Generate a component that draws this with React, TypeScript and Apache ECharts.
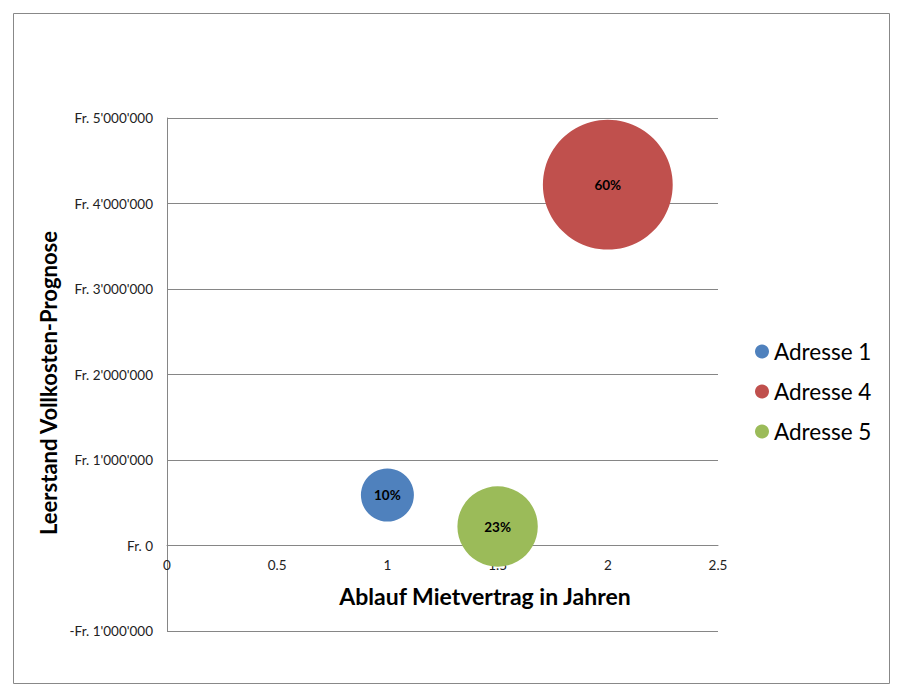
import React, { useEffect, useRef } from "react";
import * as echarts from "echarts";

const seriesNames = ["Adresse 1", "Adresse 4", "Adresse 5"];
const seriesColors = ["#4F81BD", "#C0504D", "#9BBB59"];
const xValues = [1, 2, 1.5];
const yValues = [590000, 4220000, 222000];
const bubbleSizes = [10, 60, 23];

const xTitle = "Ablauf Mietvertrag in Jahren";
const yTitle = "Leerstand Vollkosten-Prognose";

const FONT = "Lato, 'Open Sans', sans-serif";

function fmtFr(v: number): string {
  const abs = Math.abs(v);
  const s = String(Math.round(abs)).replace(/\B(?=(\d{3})+(?!\d))/g, "'");
  return (v < 0 ? "-" : "") + "Fr. " + s;
}

export default function App() {
  const ref = useRef<HTMLDivElement>(null);
  useEffect(() => {
    if (!ref.current) return;
    const chart = echarts.init(ref.current, null, { renderer: "svg" });
    const k = 53 / Math.sqrt(10);
    chart.setOption({
      animation: false,
      textStyle: { fontFamily: FONT },
      grid: { left: 159, top: 110, width: 551, height: 513 },
      xAxis: {
        type: "value",
        min: 0,
        max: 2.5,
        interval: 0.5,
        offset: -85.5,
        axisLine: { onZero: false, lineStyle: { color: "#868686", width: 1 } },
        axisTick: { show: false },
        splitLine: { show: false },
        axisLabel: { margin: 12, fontSize: 13.5, color: "#222", fontFamily: FONT },
      },
      yAxis: {
        type: "value",
        min: -1000000,
        max: 5000000,
        interval: 1000000,
        axisLine: { show: true, onZero: false, lineStyle: { color: "#868686", width: 1 } },
        axisTick: { show: false },
        splitLine: { show: true, lineStyle: { color: "#868686", width: 1 } },
        axisLabel: {
          margin: 14,
          fontSize: 13.5,
          color: "#222",
          fontFamily: FONT,
          formatter: (v: number) => fmtFr(v),
        },
      },
      legend: {
        orient: "vertical",
        left: 742,
        top: 327,
        icon: "circle",
        itemWidth: 14,
        itemHeight: 14,
        itemGap: 17,
        textStyle: { fontSize: 22.5, lineHeight: 22, color: "#000", fontFamily: FONT },
        data: seriesNames,
      },
      graphic: [
        {
          type: "rect",
          shape: { x: 5.5, y: 5.5, width: 876, height: 670 },
          style: { fill: "none", stroke: "#888", lineWidth: 1 },
          silent: true,
        },
        {
          type: "text",
          x: 40,
          y: 375,
          rotation: Math.PI / 2,
          style: {
            text: yTitle,
            font: `bold 22px ${FONT}`,
            fill: "#000",
            align: "center",
            verticalAlign: "middle",
          },
        },
        {
          type: "text",
          x: 477,
          y: 588,
          style: {
            text: xTitle,
            font: `bold 23px ${FONT}`,
            fill: "#000",
            align: "center",
            verticalAlign: "middle",
          },
        },
      ],
      series: seriesNames.map((name, i) => ({
        name,
        type: "scatter",
        symbol: "circle",
        symbolSize: (d: number[]) => k * Math.sqrt(d[2]),
        itemStyle: { color: seriesColors[i], opacity: 1 },
        label: {
          show: true,
          position: "inside",
          formatter: (p: any) => p.value[2] + "%",
          fontSize: 13.5,
          fontWeight: "bold",
          color: "#000",
          fontFamily: FONT,
        },
        data: [[xValues[i], yValues[i], bubbleSizes[i]]],
      })),
    });
    return () => chart.dispose();
  }, []);
  return <div ref={ref} style={{ width: 888, height: 678 }} />;
}
